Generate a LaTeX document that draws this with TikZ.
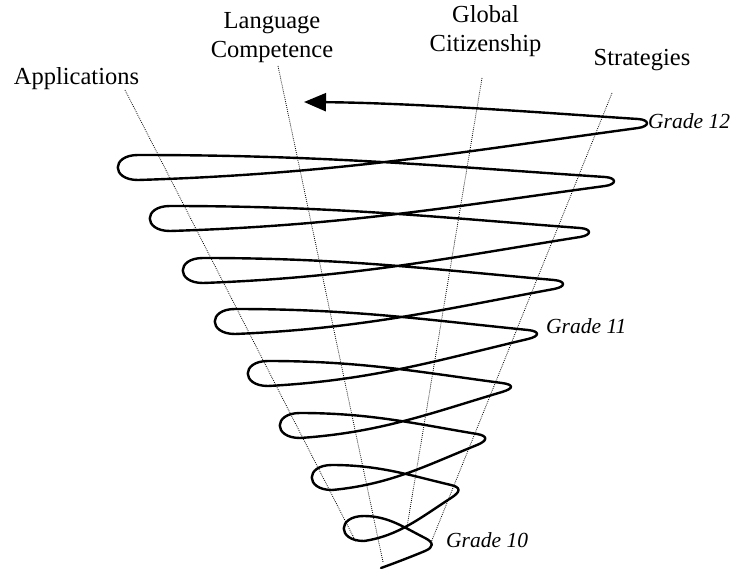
\documentclass[tikz,border=0pt]{standalone}
\usepackage{fontspec}
\setmainfont{Liberation Serif}
\usetikzlibrary{arrows.meta}
\begin{document}
\begin{tikzpicture}[x=1pt,y=-1pt,
  lab/.style={font=\fontsize{24.5}{29}\selectfont, inner sep=0pt},
  grade/.style={font=\fontsize{21.5}{24}\selectfont\itshape, inner sep=0pt},
  axis/.style={line width=0.8pt, dash pattern=on 0.8pt off 1.2pt, black},
  spiral/.style={line width=2.4pt, line cap=round, line join=round}]
\useasboundingbox (0,0) rectangle (736,569);
% labels
\node[lab, anchor=base] (app) at (76.5,85) {Applications};
\node[lab, align=center, anchor=base] (lang) at (272,58) {Language\\Competence};
\node[lab, align=center, anchor=base] (glob) at (485.5,52) {Global\\Citizenship};
\node[lab, anchor=base] (strat) at (642,66) {Strategies};
\node[grade, anchor=base west] (g12) at (648,129) {Grade 12};
\node[grade, anchor=base west] (g11) at (546,334) {Grade 11};
\node[grade, anchor=base west] (g10) at (446,547) {Grade 10};
% dotted axes
\coordinate (a1) at (125,90);  \coordinate (a2) at (356,542);
\coordinate (l1) at (278,66);  \coordinate (l2) at (383,562);
\coordinate (c1) at (482,78);  \coordinate (c2) at (407,527);
\coordinate (s1) at (612,93);  \coordinate (s2) at (430,545);
\draw[axis] (a1) -- (a2);
\draw[axis] (l1) -- (l2);
\draw[axis] (c1) -- (c2);
\draw[axis] (s1) -- (s2);
% spiral
\draw[spiral, -{Triangle[length=22pt,width=18pt]}]
 (381,568) .. controls (395,563) and (413,556) .. (425,551)
 .. controls (434,547.2) and (434,542.5) .. (425,538)
 .. controls (403.65,527.2) and (388,516) .. (364,516)
 .. controls (337,516) and (337,541) .. (364,541)
 .. controls (398.8,535.8) and (420.55,517.6) .. (451,498)
 .. controls (461,491.6) and (461,487.35) .. (451,485)
 .. controls (409.35,475.2) and (379.2,465) .. (332,465)
 .. controls (305,465) and (305,490) .. (332,490)
 .. controls (390,484.6) and (426.25,465.5) .. (477,445)
 .. controls (488,440.6) and (488,435.8) .. (477,434)
 .. controls (415.05,423.7) and (370.4,413) .. (300,413)
 .. controls (273,413) and (273,438) .. (300,438)
 .. controls (380.8,432.5) and (431.3,412.9) .. (502,392)
 .. controls (514,388.4) and (514,384.6) .. (502,383)
 .. controls (420.1,372.2) and (361.6,361) .. (268,361)
 .. controls (241,361) and (241,386) .. (268,386)
 .. controls (372,380.4) and (437,360.4) .. (528,339)
 .. controls (540,336.2) and (540,331.2) .. (528,330)
 .. controls (425.45,319.7) and (352.2,309) .. (235,309)
 .. controls (208,309) and (208,334) .. (235,334)
 .. controls (362.6,328.6) and (442.35,309.5) .. (554,289)
 .. controls (566,286.8) and (566,281.1) .. (554,280)
 .. controls (431.15,269.2) and (343.4,258) .. (203,258)
 .. controls (176,258) and (176,283) .. (203,283)
 .. controls (353.8,277.5) and (448.05,257.9) .. (580,237)
 .. controls (592,235.1) and (592,228.9) .. (580,228)
 .. controls (436.5,217.2) and (334,206) .. (170,206)
 .. controls (143,206) and (143,231) .. (170,231)
 .. controls (344,225.6) and (452.75,206.5) .. (605,186)
 .. controls (617,184.4) and (617,177.8) .. (605,177)
 .. controls (441.55,166.2) and (324.8,155) .. (138,155)
 .. controls (111,155) and (111,180) .. (138,180)
 .. controls (338,173.8) and (463,151.7) .. (638,128)
 .. controls (650,126.4) and (650,119.8) .. (638,119)
 .. controls (560,114) and (420,103) .. (304,102);
\end{tikzpicture}
\end{document}
